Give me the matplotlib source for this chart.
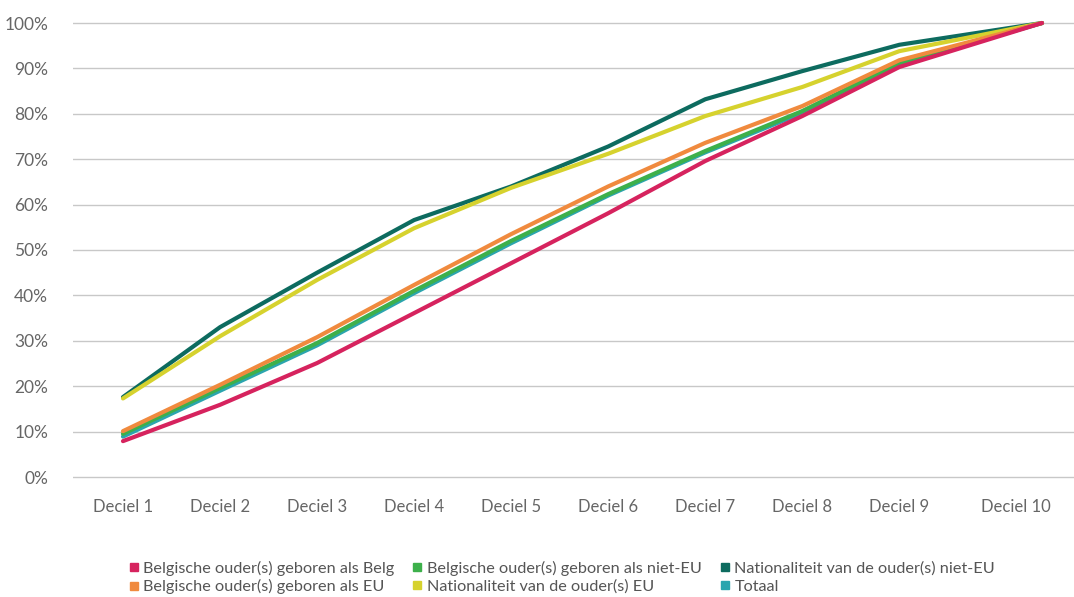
import matplotlib
matplotlib.use("Agg")
import matplotlib.pyplot as plt
from matplotlib.lines import Line2D

plt.rcParams['font.family'] = ['Lato', 'DejaVu Sans']

categories = ["Deciel 1", "Deciel 2", "Deciel 3", "Deciel 4", "Deciel 5",
              "Deciel 6", "Deciel 7", "Deciel 8", "Deciel 9", "Deciel 10"]
# category positions on the axis (the last category sits further right in the original)
x_pos = [1, 2, 3, 4, 5, 6, 7, 8, 9, 10.47]
# where the category labels sit (last label is not centred under its point)
label_pos = [1, 2, 3, 4, 5, 6, 7, 8, 9, 10.2]

belg = [7.9, 15.9, 25.1, 36.1, 47.1, 58.1, 69.6, 79.5, 90.3, 100]
eu = [10.1, 20.3, 30.8, 42.3, 53.5, 64.0, 73.6, 81.7, 91.8, 100]
niet_eu = [9.5, 19.6, 29.5, 41.0, 52.0, 62.3, 71.8, 80.6, 91.2, 100]
nat_niet_eu = [17.6, 33.0, 45.0, 56.6, 64.0, 72.8, 83.2, 89.4, 95.2, 100]
nat_eu = [17.3, 31.0, 43.4, 54.8, 63.7, 71.2, 79.5, 85.9, 93.8, 100]
totaal = [8.9, 19.0, 29.0, 40.5, 51.5, 62.0, 71.5, 80.2, 91.0, 100]

labels = ["Belgische ouder(s) geboren als Belg",
          "Belgische ouder(s) geboren als EU",
          "Belgische ouder(s) geboren als niet-EU",
          "Nationaliteit van de ouder(s) EU",
          "Nationaliteit van de ouder(s) niet-EU",
          "Totaal"]

c_belg = "#D6235E"
c_eu = "#F08A3E"
c_niet = "#3DB04B"
c_natniet = "#0D6B5F"
c_nateu = "#D6D22E"
c_tot = "#2BA5AE"

fig = plt.figure(figsize=(10.74, 5.97), dpi=100)
ymin, ymax = -0.6, 100.6
px_per_unit = (477 - 23) / 100.0
bottom_px = 477 + 0.6 * px_per_unit
top_px = 23 - 0.6 * px_per_unit
ax = fig.add_axes([73/1074, (597-bottom_px)/597, 1 - 73/1074, (bottom_px-top_px)/597])

series = [
    (nat_niet_eu, c_natniet),
    (nat_eu, c_nateu),
    (totaal, c_tot),
    (niet_eu, c_niet),
    (eu, c_eu),
    (belg, c_belg),
]
for vals, col in series:
    ax.plot(x_pos, vals, color=col, lw=3.0, solid_capstyle='round',
            solid_joinstyle='round', clip_on=False, zorder=3)

ax.set_xlim(0.485, 10.80)
ax.set_ylim(ymin, ymax)
ax.set_yticks(range(0, 101, 10))
ax.set_yticklabels([f"{v}%" for v in range(0, 101, 10)])
ax.set_xticks(label_pos)
ax.set_xticklabels(categories)
ax.grid(axis='y', color='#C8C8C8', lw=1.0)
ax.set_axisbelow(True)
for s in ax.spines.values():
    s.set_visible(False)
ax.tick_params(axis='both', length=0, labelsize=12.5, labelcolor='#666666')
ax.tick_params(axis='y', pad=18)
ax.tick_params(axis='x', pad=14, labelsize=12)

handles = [
    Line2D([], [], marker='s', ls='none', color=c_belg, markersize=6),
    Line2D([], [], marker='s', ls='none', color=c_eu, markersize=6),
    Line2D([], [], marker='s', ls='none', color=c_niet, markersize=6),
    Line2D([], [], marker='s', ls='none', color=c_nateu, markersize=6),
    Line2D([], [], marker='s', ls='none', color=c_natniet, markersize=6),
    Line2D([], [], marker='s', ls='none', color=c_tot, markersize=6),
]
fig.legend(handles, labels, ncol=3, loc='lower left',
           bbox_to_anchor=(119/1074, -0.012), frameon=False, fontsize=11.7,
           labelcolor='#555555', handlelength=0.6, handletextpad=0.3,
           columnspacing=1.1, labelspacing=0.22, borderaxespad=0.2)

fig.savefig("out.png", dpi=100)
